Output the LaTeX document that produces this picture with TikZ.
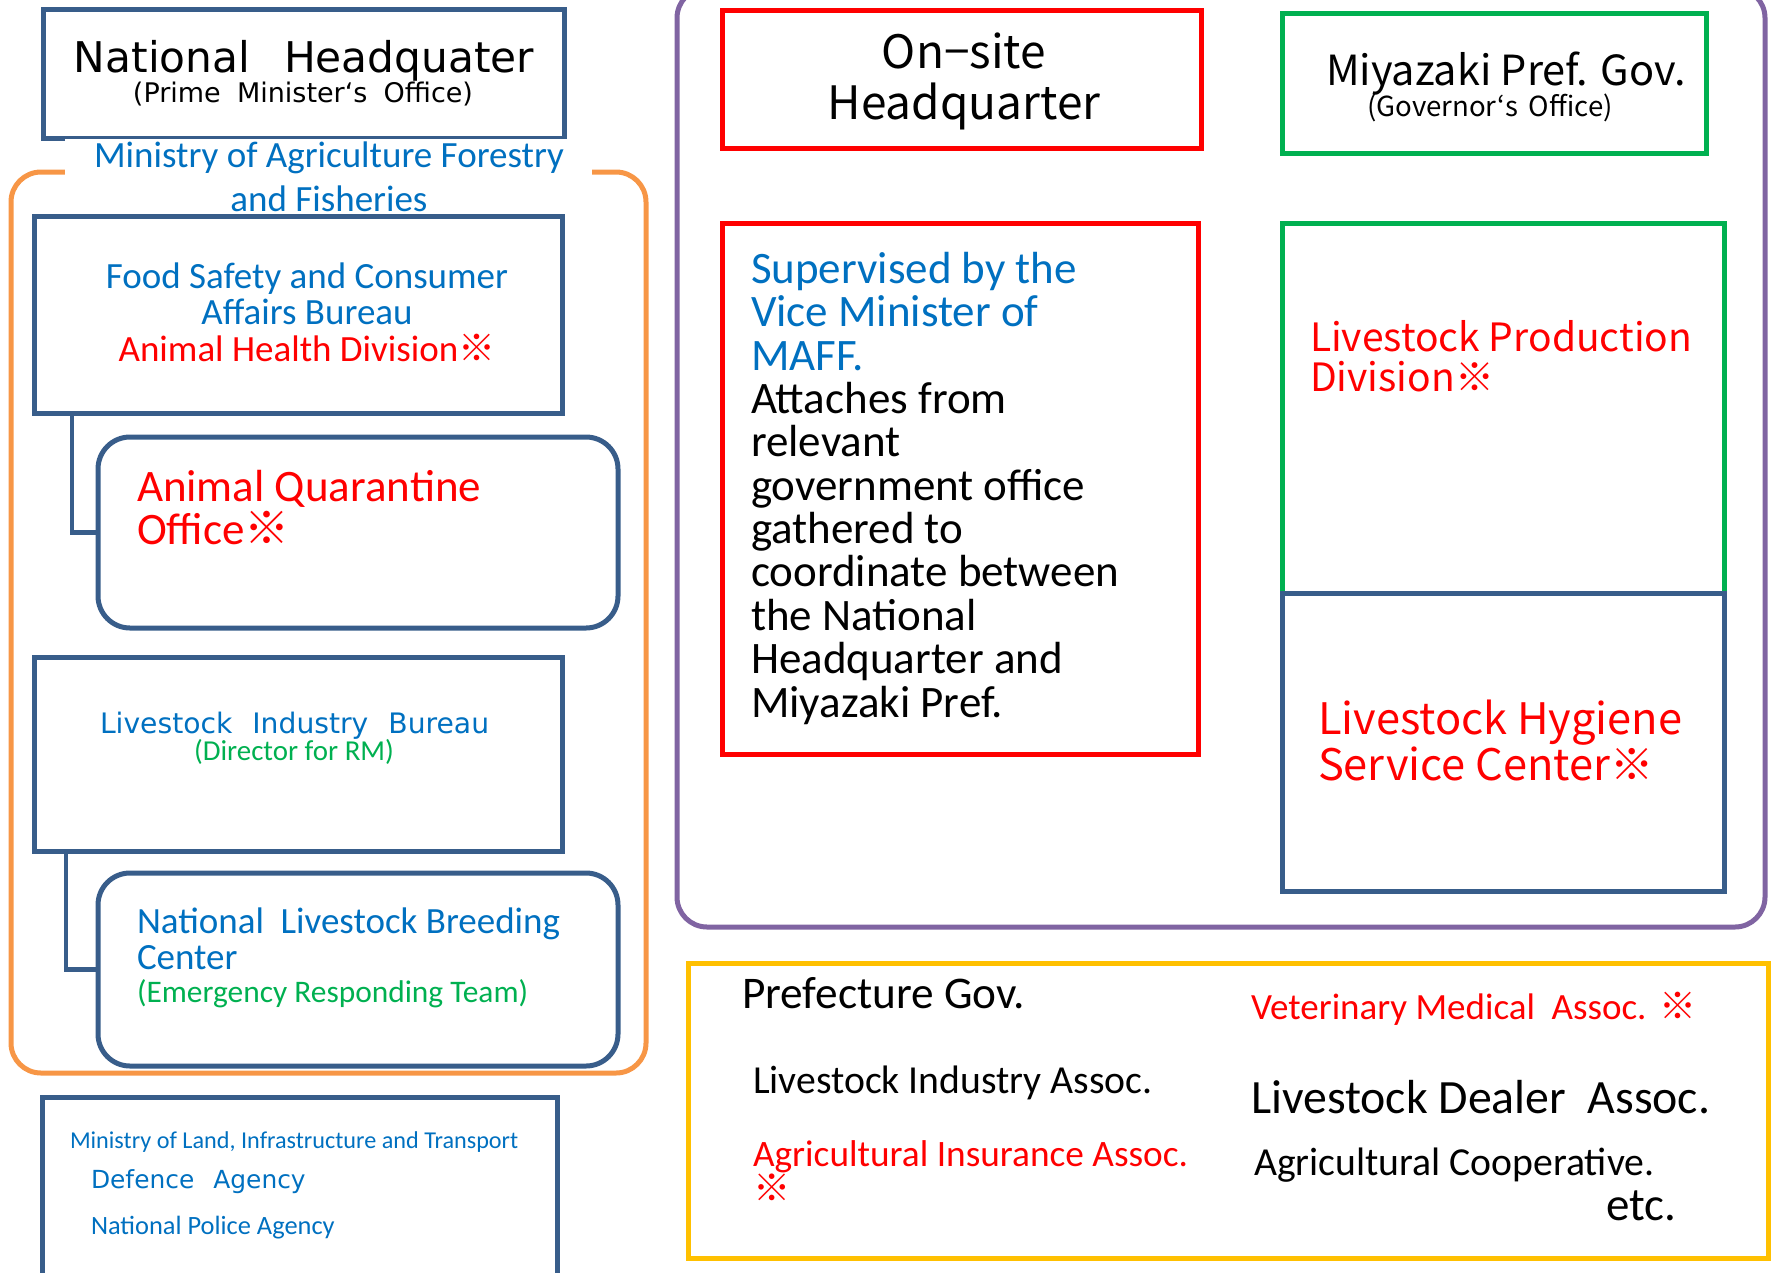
\documentclass[tikz,border=0pt]{standalone}
\usepackage{fontspec}
\setmainfont{Carlito}
\newfontfamily\dvs{DejaVu Sans}
\newfontfamily\jpf{Noto Sans CJK JP}
\usetikzlibrary{fit}
\definecolor{boxblue}{HTML}{385D8A}
\definecolor{tblue}{HTML}{0070C0}
\definecolor{mred}{HTML}{FF0000}
\definecolor{mgreen}{HTML}{00B050}
\definecolor{morange}{HTML}{F79646}
\definecolor{mpurple}{HTML}{8064A2}
\definecolor{myellow}{HTML}{FFC000}
\newcommand\kome{{\jpf ※}}
\newcommand\fsz[2]{\fontsize{#1pt}{#2pt}\selectfont}
\newcommand\blk[2]{\parbox[t]{#1}{#2}}
\tikzset{
  every node/.style={inner sep=0pt, outer sep=0pt},
  bluebox/.style={draw=boxblue, line width=5pt},
  redbox/.style={draw=mred, line width=5pt},
  greenbox/.style={draw=mgreen, line width=5pt},
  roundbox/.style={bluebox, rounded corners=32pt},
  conn/.style={draw=boxblue, line width=4.5pt},
  txt/.style={anchor=base west, inner sep=0pt},
  ctxt/.style={anchor=base, inner sep=0pt},
}
\begin{document}
\begin{tikzpicture}[x=1pt,y=-1pt]
\useasboundingbox (0,0) rectangle (1771,1272);
\clip (0,0) rectangle (1771,1272);
% frames
\node[draw=morange, line width=5pt, rounded corners=30pt, fit={(11,172)(646,1073)}] (maffframe) {};
\node[draw=mpurple, line width=5pt, rounded corners=30pt, fit={(677,-12)(1765,927)}] (siteframe) {};
\node[draw=myellow, line width=5pt, fit={(688,963)(1768,1258)}] (local) {};
% left boxes
\node[bluebox, fit={(43,9)(564,138)}] (nh) {};
\node[bluebox, fit={(34,216)(562,413)}] (fs) {};
\node[roundbox, fit={(98,437)(618,628)}] (aq) {};
\node[bluebox, fit={(34,657)(562,851)}] (lib) {};
\node[roundbox, fit={(98,873)(618,1066)}] (nlbc) {};
\node[bluebox, fit={(42.5,1097)(557,1300)}] (mlit) {};
% connectors
\draw[conn] ([xshift=38pt]fs.south west) |- (aq.west);
\draw[conn] ([xshift=32pt]lib.south west) |- (nlbc.west);
% MAFF label
\node[fill=white, fit={(65,139)(592,214)}] (maff) {};
\node[ctxt, text=tblue] (maffT) at (329,167) {\blk{560pt}{\centering\fsz{37}{44}Ministry of Agriculture Forestry\\and Fisheries}};
% left texts
\node[ctxt] (nh1) at (304,72) {\dvs\fsz{42.3}{50}National\hspace{0.8em}Headquater};
\node[ctxt] (nh2) at (303,102) {\dvs\fsz{27}{30}(Prime\hspace{0.6em}Minister‘s\hspace{0.6em}Office)};
\node[ctxt, text=tblue] (fsT) at (307,288) {\blk{500pt}{\centering\fsz{37}{36.7}Food Safety and Consumer\\Affairs Bureau\\\color{mred}Animal Health Division\kome}};
\node[txt, text=mred] (aqT) at (137,501) {\blk{460pt}{\raggedright\fsz{45}{43.6}Animal Quarantine\\Office\kome}};
\node[txt, text=tblue] (lib1) at (100,733) {\dvs\fsz{28.2}{32}Livestock\hspace{20pt}Industry\hspace{20pt}Bureau};
\node[txt, text=mgreen] (lib2) at (194,760) {\fsz{28.9}{32}(Director for RM)};
\node[txt, text=tblue] (nlbcT) at (137,933) {\blk{470pt}{\raggedright\fsz{37}{36}National\hspace{0.45em}Livestock Breeding\\Center\\[-3pt]\color{mgreen}\fsz{31.4}{36}(Emergency Responding Team)}};
\node[txt, text=tblue] (ml1) at (70,1148) {\fsz{24.2}{28}Ministry of Land, Infrastructure and Transport};
\node[txt, text=tblue] (ml2) at (91,1188) {\dvs\fsz{24.9}{28}Defence\hspace{19pt}Agency};
\node[txt, text=tblue] (ml3) at (91,1234) {\fsz{26.4}{28}National Police Agency};
% right boxes
\node[redbox, fit={(722,10)(1201,148)}] (osh) {};
\node[greenbox, fit={(1282.5,13)(1706,153)}] (mz) {};
\node[redbox, fit={(722,223)(1198,754)}] (sup) {};
\node[greenbox, fit={(1282.5,223)(1724,593)}] (lpd) {};
\node[bluebox, fit={(1282.5,593)(1724,891)}] (lhsc) {};
% right texts
\node[ctxt] (oshT) at (964,68) {\blk{460pt}{\centering\jpf\fsz{46}{51}On−site\\Headquarter}};
\node[ctxt] (mz1) at (1506,85) {\jpf\fsz{41.5}{50}Miyazaki Pref. Gov.};
\node[ctxt] (mz2) at (1490,116) {\jpf\fsz{27.6}{34}(Governor‘s\hspace{0.4em}Office)};
\node[txt, text=tblue] (supT) at (751,283.5) {\blk{440pt}{\raggedright\fsz{45}{43.35}Supervised by the\\Vice Minister of\\MAFF.\\\color{black}Attaches from\\relevant\\government office\\gathered to\\coordinate between\\the National\\Headquarter and\\Miyazaki Pref.}};
\node[txt, text=mred] (lpdT) at (1310,351) {\blk{420pt}{\raggedright\jpf\fsz{39}{40}Livestock Production\\Division\kome}};
\node[txt, text=mred] (lhscT) at (1318,734.4) {\blk{420pt}{\raggedright\jpf\fsz{43.4}{45.6}Livestock Hygiene\\Service Center\kome}};
% local organisations
\node[txt] (pg) at (742,1008.3) {\fsz{45.3}{48}Prefecture Gov.};
\node[txt, text=mred] (vma) at (1251,1019.3) {\fsz{37}{40}Veterinary Medical\hspace{0.45em}Assoc.\hspace{0.35em}\kome};
\node[txt] (lia) at (753,1093.3) {\fsz{39.7}{44}Livestock Industry Assoc.};
\node[txt] (lda) at (1251,1113.3) {\fsz{47.8}{52}Livestock Dealer\hspace{0.45em}Assoc.};
\node[txt, text=mred] (aia) at (753,1166.7) {\blk{460pt}{\raggedright\fsz{37.3}{35}Agricultural Insurance Assoc.\\\kome}};
\node[txt] (ac) at (1254,1175) {\fsz{39.7}{44}Agricultural Cooperative.};
\node[txt] (etc) at (1606,1220) {\fsz{47}{50}etc.};
\end{tikzpicture}
\end{document}
